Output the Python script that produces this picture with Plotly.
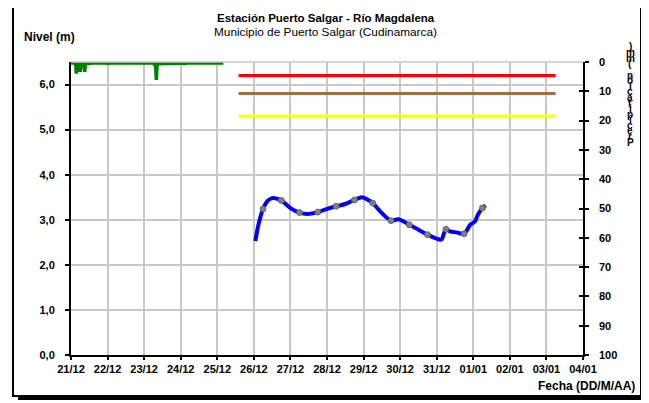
import plotly.graph_objects as go

# ---------------- data ----------------
level_times = [
    "2021-12-26 01:00", "2021-12-26 03:00", "2021-12-26 06:00", "2021-12-26 09:00",
    "2021-12-26 12:00", "2021-12-26 15:00", "2021-12-26 18:00", "2021-12-27 00:00",
    "2021-12-27 06:00", "2021-12-27 11:00", "2021-12-27 18:00", "2021-12-28 00:00",
    "2021-12-28 06:00", "2021-12-28 12:00", "2021-12-28 18:00", "2021-12-28 23:00",
    "2021-12-29 04:00", "2021-12-29 06:00", "2021-12-29 12:00", "2021-12-29 18:00",
    "2021-12-29 23:00", "2021-12-30 06:00", "2021-12-30 12:00", "2021-12-30 18:00",
    "2021-12-31 00:00", "2021-12-31 03:00", "2021-12-31 05:00", "2021-12-31 06:00",
    "2021-12-31 09:00", "2021-12-31 13:00", "2021-12-31 18:00", "2021-12-31 22:00",
    "2022-01-01 01:00", "2022-01-01 03:00", "2022-01-01 06:00", "2022-01-01 08:00",
]
level_values = [
    2.53, 2.89, 3.24, 3.42,
    3.48, 3.47, 3.43, 3.26,
    3.16, 3.13, 3.17, 3.24,
    3.30, 3.35, 3.44, 3.50,
    3.42, 3.37, 3.15, 2.98,
    3.01, 2.89, 2.78, 2.67,
    2.58, 2.56, 2.72, 2.79,
    2.74, 2.72, 2.69, 2.89,
    2.96, 3.11, 3.26, 3.32,
]

hist_times = [
    "2021-12-21 00:00", "2021-12-21 03:00", "2021-12-21 03:30", "2021-12-21 04:00",
    "2021-12-21 05:30", "2021-12-21 06:00", "2021-12-21 06:30", "2021-12-21 08:30",
    "2021-12-21 09:00", "2021-12-21 09:30", "2021-12-21 14:00", "2021-12-21 23:30",
    "2021-12-22 00:00", "2021-12-22 00:30", "2021-12-23 06:30", "2021-12-23 07:00",
    "2021-12-23 07:30", "2021-12-23 08:00", "2021-12-23 08:30", "2021-12-24 02:30",
    "2021-12-24 03:00", "2021-12-24 03:30", "2021-12-25 04:00",
]
hist_values = [
    6.48, 6.48, 6.24, 6.46,
    6.46, 6.28, 6.46, 6.46,
    6.28, 6.46, 6.48, 6.48,
    6.45, 6.48, 6.48, 6.42,
    6.44, 6.10, 6.46, 6.48,
    6.45, 6.48, 6.48,
]

threshold_start = "2021-12-25 14:00"
threshold_end = "2022-01-03 06:00"
threshold_values = [6.2, 5.8, 5.3]
threshold_colors = ["#FF0000", "#A0703C", "#FFFF00"]

left_ticks = [0, 1, 2, 3, 4, 5, 6]
left_ticktext = ["0,0", "1,0", "2,0", "3,0", "4,0", "5,0", "6,0"]
right_ticks = [0, 10, 20, 30, 40, 50, 60, 70, 80, 90, 100]
x_start = "2021-12-21"
x_end = "2022-01-04"

title_text = "Estación Puerto Salgar - Río Magdalena"
subtitle_text = "Municipio de Puerto Salgar (Cudinamarca)"
right_label = "Precipitación (mm)"

# ---------------- geometry (page pixels; page body has an 8px margin) ----------------
OFF = 8
W, H = 649 - OFF, 403 - OFF
L, R, T, B = 71, 583, 62, 355  # plot area in page pixels


def px(x):
    return (x - L) / (R - L)


def py(y):
    return (B - y) / (B - T)


FONT = "Liberation Sans, Arial, sans-serif"

fig = go.Figure()

for v, c in zip(threshold_values, threshold_colors):
    fig.add_trace(go.Scatter(x=[threshold_start, threshold_end], y=[v, v], mode="lines",
                             line=dict(color=c, width=3), showlegend=False, hoverinfo="skip"))

fig.add_trace(go.Scatter(x=hist_times, y=hist_values, mode="lines",
                         line=dict(color="#008000", width=3.5), showlegend=False))

fig.add_trace(go.Scatter(x=level_times, y=level_values, mode="lines",
                         line=dict(color="#0000FF", width=4, shape="spline", smoothing=0.8),
                         showlegend=False))

mk_t = [t for t in level_times if t.endswith("06:00") or t.endswith("18:00")]
mk_v = [v for t, v in zip(level_times, level_values) if t.endswith("06:00") or t.endswith("18:00")]
fig.add_trace(go.Scatter(x=mk_t, y=mk_v, mode="markers",
                         marker=dict(color="#808080", size=6, line=dict(color="#5f5f5f", width=0.8)),
                         showlegend=False))

# invisible traces for right axes
fig.add_trace(go.Scatter(x=[x_start], y=[None], yaxis="y2", showlegend=False, hoverinfo="skip"))
fig.add_trace(go.Scatter(x=[x_start], y=[None], yaxis="y3", showlegend=False, hoverinfo="skip"))

tickfont = dict(family=FONT, size=11, color="black")

fig.update_layout(
    width=W, height=H,
    margin=dict(l=L - OFF, r=W - (R - OFF), t=T - OFF, b=H - (B - OFF), pad=0),
    paper_bgcolor="white", plot_bgcolor="white",
    font=dict(family=FONT, color="black"),
    xaxis=dict(type="date", range=[x_start, x_end], dtick=86400000, tick0=x_start,
               tickformat="<b>%d/%m</b>", tickfont=tickfont, showgrid=True, gridcolor="#C8C8C8",
               gridwidth=1.5, showline=True, linecolor="black", linewidth=2,
               ticks="outside", ticklen=3, tickcolor="black", tickwidth=1.5, zeroline=False,
               ticklabelstandoff=0),
    yaxis=dict(range=[0, 6.5], tickvals=left_ticks,
               ticktext=["<b>" + t + "</b>" for t in left_ticktext], tickfont=tickfont,
               showgrid=True, gridcolor="#C8C8C8", gridwidth=1.5, showline=True,
               linecolor="black", linewidth=2, ticks="outside", ticklen=4, tickcolor="black",
               tickwidth=1.5, zeroline=False, ticklabelstandoff=8),
    yaxis2=dict(range=[100, 0], tickvals=right_ticks,
                ticktext=["<b>" + str(t) + "</b>" for t in right_ticks], tickfont=tickfont,
                overlaying="y", side="right", showgrid=False, showline=True, linecolor="black",
                linewidth=1.5, ticks="outside", ticklen=4, tickcolor="black", tickwidth=1.5,
                zeroline=False, ticklabelstandoff=8),
    yaxis3=dict(range=[100, 0], tickvals=right_ticks, showticklabels=False, overlaying="y",
                side="right", showgrid=False, showline=False, ticks="inside", ticklen=4,
                tickcolor="black", tickwidth=1.5, zeroline=False),
)

shapes = [
    # top border of plot area
    dict(type="line", xref="paper", yref="paper", x0=0, x1=1, y0=1, y1=1,
         line=dict(color="#C8C8C8", width=1.5)),
    # chart frame
    dict(type="rect", xref="paper", yref="paper", x0=px(13), x1=px(641), y0=py(4), y1=py(396),
         line=dict(color="black", width=2)),
    dict(type="rect", xref="paper", yref="paper", x0=px(640), x1=px(645), y0=py(9), y1=py(400),
         fillcolor="black", line=dict(width=0)),
    dict(type="rect", xref="paper", yref="paper", x0=px(18), x1=px(645), y0=py(395), y1=py(400),
         fillcolor="black", line=dict(width=0)),
]
fig.update_layout(shapes=shapes)

annotations = [
    dict(text="<b>" + title_text + "</b>", x=px(326), y=py(18), xref="paper", yref="paper",
         showarrow=False, xanchor="center", yanchor="middle",
         font=dict(family=FONT, size=11.5, color="black")),
    dict(text=subtitle_text, x=px(325), y=py(32), xref="paper", yref="paper",
         showarrow=False, xanchor="center", yanchor="middle",
         font=dict(family=FONT, size=11.8, color="black")),
    dict(text="<b>Nivel (m)</b>", x=px(22), y=py(37), xref="paper", yref="paper",
         showarrow=False, xanchor="left", yanchor="middle",
         font=dict(family=FONT, size=12, color="black")),
    dict(text="<b>Fecha (DD/M/AA)</b>", x=px(637), y=py(386), xref="paper", yref="paper",
         showarrow=False, xanchor="right", yanchor="middle",
         font=dict(family=FONT, size=12, color="black")),
]

# stacked (upright) characters of the right axis title, read bottom to top
chars = list(reversed(right_label))
top_y, step = 47, 5.6
for i, ch in enumerate(chars):
    if ch == " ":
        continue
    annotations.append(dict(text="<b>" + ch + "</b>", x=px(630), y=py(top_y + i * step),
                            xref="paper", yref="paper", showarrow=False,
                            xanchor="center", yanchor="middle",
                            font=dict(family=FONT, size=10, color="black")))
fig.update_layout(annotations=annotations)

fig.write_html("out.html")
